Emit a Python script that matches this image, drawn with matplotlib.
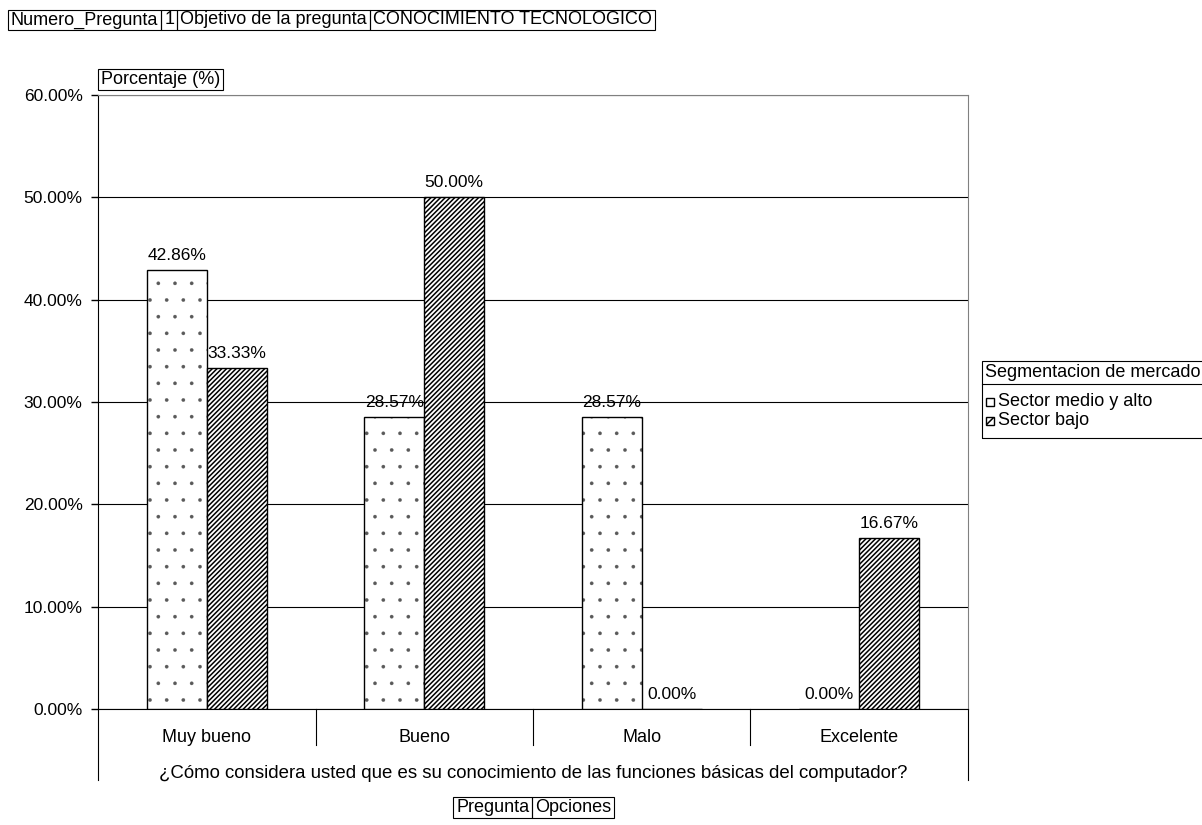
import matplotlib
matplotlib.use('Agg')
import matplotlib.pyplot as plt
from matplotlib.patches import Rectangle
from matplotlib.lines import Line2D
import numpy as np

plt.rcParams['font.family'] = ['Liberation Sans', 'DejaVu Sans']
plt.rcParams['hatch.linewidth'] = 1.1

# data
categorias = ['Muy bueno', 'Bueno', 'Malo', 'Excelente']
series = ['Sector medio y alto', 'Sector bajo']
medio_alto = [42.86, 28.57, 28.57, 0.00]
bajo = [33.33, 50.00, 0.00, 16.67]
yticks = [0, 10, 20, 30, 40, 50, 60]
pregunta = '¿Cómo considera usted que es su conocimiento de las funciones básicas del computador?'
cabecera = ['Numero_Pregunta', '1', 'Objetivo de la pregunta', 'CONOCIMIENTO TECNOLOGICO']
pie = ['Pregunta', 'Opciones']

W, H = 1202, 825
FS = 12.5   # numbers
FS2 = 13    # other texts

def fx(x):
    return x / W

def fy(y):
    return 1 - y / H

fig = plt.figure(figsize=(W / 100, H / 100), dpi=100)
ax = fig.add_axes([fx(98), fy(709), fx(968) - fx(98), fy(95) - fy(709)])

x = np.arange(len(categorias))
bw = 0.276
b1 = ax.bar(x - bw / 2, medio_alto, bw, color='white', edgecolor='black', hatch='.', linewidth=1.0, zorder=3)
b2 = ax.bar(x + bw / 2, bajo, bw, color='white', edgecolor='black', hatch='///////', linewidth=1.0, zorder=3)
for r in b1:
    if hasattr(r, 'set_hatch_linewidth'):
        r.set_hatch_linewidth(0.2)
    r._hatch_color = (0.35, 0.35, 0.35, 1)

for bars, vals in [(b1, medio_alto), (b2, bajo)]:
    for r, v in zip(bars, vals):
        ax.annotate('%.2f%%' % v, (r.get_x() + r.get_width() / 2, v), xytext=(0, 5),
                    textcoords='offset points', ha='center', va='bottom', fontsize=FS, zorder=4)

ax.set_xlim(-0.5, len(categorias) - 0.5)
ax.set_ylim(0, 60)
ax.set_yticks(yticks)
ax.set_yticklabels(['%.2f%%' % t for t in yticks], fontsize=FS)
ax.tick_params(axis='y', length=5, width=1, pad=6, direction='out')
ax.set_xticks([])
ax.yaxis.grid(True, color='black', linewidth=0.8, zorder=0)
ax.set_axisbelow(True)
for s in ['top', 'right']:
    ax.spines[s].set_color('#808080')
ax.spines['left'].set_color('black')
ax.spines['bottom'].set_color('black')

# category axis below
tr = ax.get_xaxis_transform()
ah = 614.0
for i in range(1, len(categorias)):
    ax.add_line(Line2D([i - 0.5, i - 0.5], [0, -36 / ah], transform=tr, color='black', lw=0.8, clip_on=False))
for xe in [-0.5, len(categorias) - 0.5]:
    ax.add_line(Line2D([xe, xe], [0, -71 / ah], transform=tr, color='black', lw=0.8, clip_on=False))
for i, c in enumerate(categorias):
    ax.text(i, -29 / ah, c, transform=tr, ha='center', va='center', fontsize=FS2)
ax.text(1.5, -64 / ah, pregunta, transform=tr, ha='center', va='center', fontsize=13.4)

renderer = fig.canvas.get_renderer()

def boxed_row(labels, x0, ytop, ybot, pad=3, fs=FS2):
    xc = x0
    for lab in labels:
        t = fig.text(fx(xc + pad), fy((ytop + ybot) / 2), lab, ha='left', va='center', fontsize=fs)
        w = t.get_window_extent(renderer).width
        fig.add_artist(Rectangle((fx(xc), fy(ybot)), fx(w + 2 * pad), fy(ytop) - fy(ybot),
                                 transform=fig.transFigure, fill=False, edgecolor='black', lw=0.8))
        xc += w + 2 * pad

boxed_row(cabecera, 8, 10, 30)
boxed_row(['Porcentaje (%)'], 98, 69, 90)
boxed_row(pie, 453, 797, 818)

# legend
lx0, lx1, ly0, ly1, lsep = 982, 1210, 361, 438, 384
fig.add_artist(Rectangle((fx(lx0), fy(ly1)), fx(lx1 - lx0), fy(ly0) - fy(ly1), transform=fig.transFigure,
                         fill=False, edgecolor='black', lw=0.8))
fig.add_artist(Line2D([fx(lx0), fx(lx1)], [fy(lsep), fy(lsep)], transform=fig.transFigure, color='black', lw=0.8))
fig.text(fx(lx0 + 3), fy((ly0 + lsep) / 2), 'Segmentacion de mercado', ha='left', va='center', fontsize=FS2)
for j, (lab, hat) in enumerate(zip(series, ['', '///'])):
    yc = 402 + j * 19
    fig.add_artist(Rectangle((fx(986), fy(yc + 4)), fx(8), fy(yc - 4) - fy(yc + 4), transform=fig.transFigure,
                             facecolor='white', edgecolor='black', lw=1.0, hatch=hat))
    fig.text(fx(998), fy(yc), lab, ha='left', va='center', fontsize=FS2)

fig.savefig('out.png', dpi=100)
